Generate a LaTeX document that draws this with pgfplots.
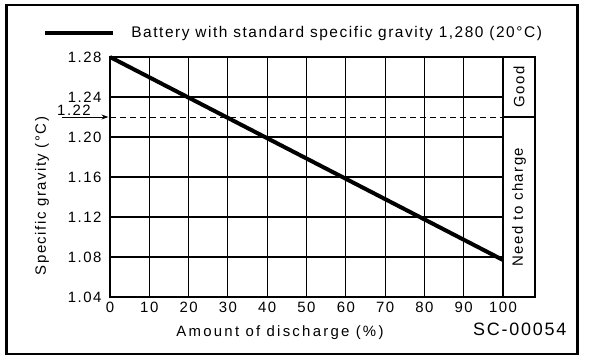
\documentclass[border=0pt]{standalone}
\usepackage{fontspec}
\setmainfont{Liberation Sans}[LetterSpace=10]
\newfontfamily\widefont{Liberation Sans}[LetterSpace=15]
\usepackage{pgfplots}
\pgfplotsset{compat=1.18}
\usetikzlibrary{arrows.meta}
\begin{document}
\begin{tikzpicture}[x=1bp,y=1bp]
\useasboundingbox (0,0) rectangle (608,360);
\draw[line width=2.5bp] (6.5,6) rectangle (577.5,355);
\begin{axis}[at={(110bp,63bp)}, anchor=south west, scale only axis,
  width=393bp, height=240bp,
  xmin=0, xmax=100, ymin=1.04, ymax=1.28,
  xtick={0,10,20,30,40,50,60,70,80,90,100},
  ytick={1.04,1.08,1.12,1.16,1.20,1.24,1.28},
  yticklabel style={/pgf/number format/fixed, /pgf/number format/fixed zerofill, /pgf/number format/precision=2, xshift=-5bp},
  xticklabel style={yshift=-2bp},
  /pgf/number format/assume math mode=true,
  tick label style={font=\fontsize{15}{17}\selectfont},
  major tick length=0pt,
  grid=major, major grid style={black, line width=1.1bp},
  axis line style={line width=1.8bp},
  clip=false,
  legend style={at={(rel axis cs:-0.17,1.1)}, anchor=west, draw=none, fill=none, inner sep=0pt,
    font=\fontsize{15.5}{17}\selectfont, /tikz/every odd column/.append style={column sep=14bp}},
  legend image code/.code={\draw[line width=4bp] (0bp,0bp) -- (68bp,0bp);},
]
\addplot[black, line width=4bp] coordinates {(0,1.28) (100,1.077)};
\addlegendentry{Battery with standard specific gravity 1,280 (20°C)}
\addplot[black, line width=1bp, dash pattern=on 6bp off 4bp, forget plot] coordinates {(0,1.22) (100,1.22)};
\draw[line width=1.8bp] (rel axis cs:1,0) rectangle (rel axis cs:1.0814,1);
\draw[line width=1.3bp] (rel axis cs:1,0.75) -- (rel axis cs:1.0814,0.75);
\node[rotate=90, font=\fontsize{15}{17}\selectfont] at (rel axis cs:1.0407,0.875) {Good};
\node[rotate=90, font=\fontsize{15}{17}\selectfont] at (rel axis cs:1.0407,0.375) {Need to charge};
\draw[-{Stealth[length=7bp,width=5bp]}, line width=1bp] (rel axis cs:-0.122,0.75) -- (rel axis cs:-0.004,0.75);
\node[anchor=south, inner sep=1bp, font=\fontsize{15}{17}\selectfont] at (rel axis cs:-0.0916,0.75) {1.22};
\end{axis}
\node[rotate=90, font=\fontsize{15}{17}\selectfont] at (42,164) {Specific gravity (°C)};
\node[font=\widefont\fontsize{15}{17}\selectfont] at (280,27) {Amount of discharge (\%)};
\node[anchor=east, font=\fontsize{18}{20}\selectfont] at (570,31) {SC-00054};
\end{tikzpicture}
\end{document}
